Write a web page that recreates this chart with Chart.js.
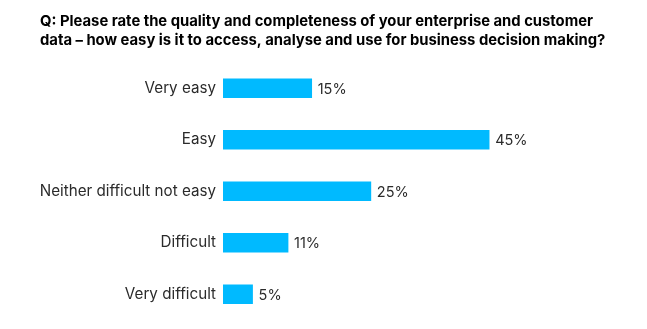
<!DOCTYPE html>
<html>
<head>
<meta charset="utf-8">
<script src="https://cdn.jsdelivr.net/npm/chart.js@4/dist/chart.umd.min.js"></script>
<style>
  html, body { margin: 0; padding: 0; background: #fff; }
  canvas { display: block; }
</style>
</head>
<body>
<canvas id="barChart" width="647" height="329"></canvas>
<script>
// Survey answers
const categories = ["Very easy", "Easy", "Neither difficult not easy", "Difficult", "Very difficult"];
const shares = [15, 45, 25, 11, 5];
const titleLines = [
    "Q: Please rate the quality and completeness of your enterprise and customer",
    "data \u2013 how easy is it to access, analyse and use for business decision making?"
];

// Writes the percentage just right of each bar
const valueLabels = {
    id: 'valueLabels',
    afterDatasetsDraw(chart) {
        const ctx = chart.ctx;
        const meta = chart.getDatasetMeta(0);
        ctx.save();
        ctx.font = '14.5px Inter, sans-serif';
        ctx.fillStyle = '#2b2b2b';
        ctx.textAlign = 'left';
        ctx.textBaseline = 'middle';
        meta.data.forEach((bar, i) => {
            ctx.fillText(shares[i] + '%', bar.x + 6, bar.y + 1);
        });
        ctx.restore();
    }
};

function renderBarChart() {
    const ctx = document.getElementById('barChart').getContext('2d');
    new Chart(ctx, {
        type: 'bar',
        data: {
            labels: categories,
            datasets: [{
                data: shares,
                backgroundColor: '#00BAFF',
                barThickness: 19
            }]
        },
        options: {
            indexAxis: 'y',
            responsive: false,
            animation: false,
            layout: {
                autoPadding: false,
                padding: { left: 40, right: 10, bottom: 9 }
            },
            plugins: {
                legend: { display: false },
                tooltip: { enabled: false },
                title: {
                    display: true,
                    text: titleLines,
                    align: 'start',
                    color: '#000',
                    font: { family: 'Inter', size: 14.8, weight: 'bold', lineHeight: 1.3 },
                    padding: { top: 12, bottom: 12 }
                }
            },
            scales: {
                x: {
                    display: false,
                    min: 0,
                    max: 70
                },
                y: {
                    grid: { display: false, drawTicks: false },
                    border: { display: false },
                    // fixed label column, no extra padding above/below the bars
                    afterFit(scale) {
                        scale.width = 183;
                        scale.paddingTop = 0;
                        scale.paddingBottom = 0;
                    },
                    ticks: {
                        color: '#2b2b2b',
                        font: { family: 'Inter', size: 15.2 },
                        padding: 7
                    }
                }
            }
        },
        plugins: [valueLabels]
    });
}

renderBarChart();
</script>
</body>
</html>
